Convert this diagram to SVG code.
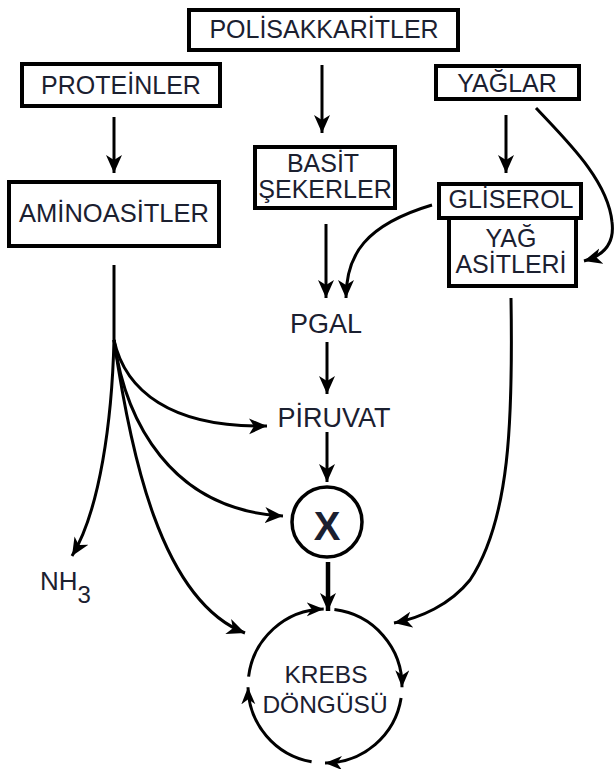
<svg xmlns="http://www.w3.org/2000/svg" width="616" height="769" viewBox="0 0 616 769">
<style>
.box{fill:#fff;stroke:#000;stroke-width:4}
.t{font-family:"Liberation Sans",Arial,sans-serif;font-size:25px;fill:#1b2030;text-anchor:middle}
.c{fill:none;stroke:#000;stroke-width:3}
.thick{stroke-width:4.5}
</style>
<defs>
<marker id="ah" markerUnits="userSpaceOnUse" markerWidth="20" markerHeight="18" refX="18" refY="8" orient="auto">
<path d="M0,0 L18,8 L0,16 L5,8 z" fill="#000"/>
</marker>
<marker id="ahs" markerUnits="userSpaceOnUse" markerWidth="20" markerHeight="16" refX="17" refY="7" orient="auto">
<path d="M0,0 L17,7 L0,14 L5,7 z" fill="#000"/>
</marker>
</defs>
<rect width="616" height="769" fill="#fff"/>

<g id="polisakkaritler">
<rect class="box" x="189" y="10" width="269" height="40"/>
<text class="t" x="324" y="38">POLİSAKKARİTLER</text>
</g>
<g id="proteinler">
<rect class="box" x="22" y="64" width="198" height="42"/>
<text class="t" x="121" y="94">PROTEİNLER</text>
</g>
<g id="yaglar">
<rect class="box" x="436" y="66" width="143" height="33"/>
<text class="t" x="507" y="92">YAĞLAR</text>
</g>
<g id="basit-sekerler">
<rect class="box" x="255" y="147" width="140" height="61"/>
<text class="t" x="323" y="172">BASİT</text>
<text class="t" x="325" y="198">ŞEKERLER</text>
</g>
<g id="aminoasitler">
<rect class="box" x="9" y="182" width="210" height="64"/>
<text class="t" x="114" y="222" style="font-size:25.5px">AMİNOASİTLER</text>
</g>
<g id="gliserol">
<rect class="box" x="439" y="184" width="142" height="34"/>
<text class="t" x="511" y="208">GLİSEROL</text>
</g>
<g id="yag-asitleri">
<rect class="box" x="449" y="218" width="127" height="68"/>
<text class="t" x="511" y="247">YAĞ</text>
<text class="t" x="511" y="273">ASİTLERİ</text>
</g>
<g id="pgal">
<text class="t" x="326" y="333" style="font-size:27px">PGAL</text>
</g>
<g id="piruvat">
<text class="t" x="334" y="427" style="font-size:27px">PİRUVAT</text>
</g>
<g id="x">
<circle cx="327" cy="522" r="35" fill="#fff" stroke="#000" stroke-width="3.5"/>
<text class="t" x="327" y="540" style="font-size:40px;font-weight:bold">X</text>
</g>
<g id="nh3">
<text class="t" x="40" y="590" style="text-anchor:start;font-size:26px">NH<tspan dy="13" style="font-size:24px">3</tspan></text>
</g>
<g id="krebs">
<text class="t" x="326" y="683" style="font-size:24.5px">KREBS</text>
<text class="t" x="325" y="713" style="font-size:24.5px">DÖNGÜSÜ</text>
</g>

<g id="connectors">
<path class="c" d="M114,117 L114,173" marker-end="url(#ah)"/>
<path class="c" d="M322,65 L322,133" marker-end="url(#ah)"/>
<path class="c" d="M506,115 L506,173" marker-end="url(#ah)"/>
<path class="c" d="M536,108 C566,140 608,180 612,222 C615,245 602,256 584,261" marker-end="url(#ah)"/>
<path class="c" d="M326,224 L326,298" marker-end="url(#ah)"/>
<path class="c" d="M432,205 C365,225 346,255 346,298" marker-end="url(#ah)"/>
<path class="c" d="M327,342 L327,394" marker-end="url(#ah)"/>
<path class="c" d="M327,432 L327,482" marker-end="url(#ah)"/>
<path class="c thick" d="M328,562 L328,611" marker-end="url(#ah)"/>
<path class="c" d="M511,298 C513,420 510,520 470,580 C450,605 420,618 394,623" marker-end="url(#ah)"/>
<path class="c" d="M114,265 L114,340"/>
<path class="c" d="M114,340 C125,390 170,428 267,426" marker-end="url(#ah)"/>
<path class="c" d="M114,340 C125,420 170,510 283,516" marker-end="url(#ah)"/>
<path class="c" d="M114,340 C130,450 160,600 245,633" marker-end="url(#ah)"/>
<path class="c" d="M114,340 C112,420 100,510 72,556" marker-end="url(#ah)"/>
<path class="c" d="M248.6,676.6 A77,77 0 0 1 323.7,609" marker-end="url(#ahs)"/>
<path class="c" d="M334.4,609.6 A77,77 0 0 1 402,687.3" marker-end="url(#ahs)"/>
<path class="c" d="M401.1,698 A77,77 0 0 1 325,763" marker-end="url(#ahs)"/>
<path class="c" d="M311.6,761.8 A77,77 0 0 1 248,687.3" marker-end="url(#ahs)"/>
</g>
</svg>
